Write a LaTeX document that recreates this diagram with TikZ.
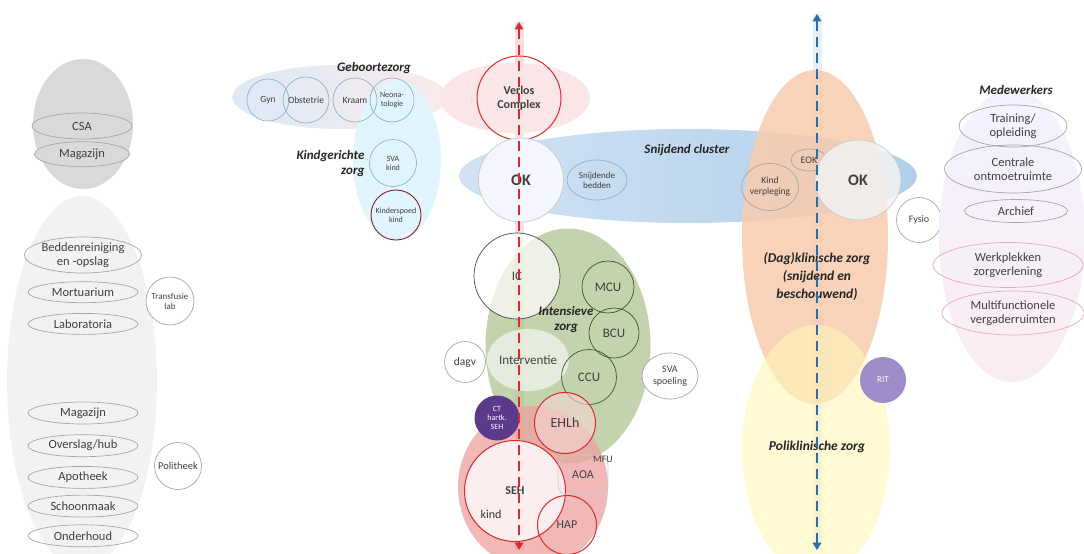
\documentclass[tikz,border=0pt]{standalone}
\usepackage{fontspec}
\setmainfont{Carlito}
\usetikzlibrary{arrows.meta,positioning,shapes.geometric,calc}
\definecolor{hgrey}{HTML}{A6A6A6}
\definecolor{hgreyfill}{HTML}{D9D9D9}
\definecolor{hgreylight}{HTML}{F2F2F2}
\definecolor{hblue}{HTML}{8FB3C9}
\definecolor{hsnij}{HTML}{9DC3E6}
\definecolor{hred}{HTML}{D92B2B}
\definecolor{hdarkred}{HTML}{8B1A2B}
\definecolor{hgreen}{HTML}{A9C08A}
\definecolor{hdkgreen}{HTML}{3D5A2A}
\definecolor{horange}{HTML}{F8CBAD}
\definecolor{hyellow}{HTML}{FFF5B8}
\definecolor{hpurple}{HTML}{5B3A8C}
\definecolor{hlilac}{HTML}{9E8CC8}
\definecolor{hnavy}{HTML}{2E6DA4}
\tikzset{
  >=Triangle,
  font=\fontsize{12.5}{13.5}\selectfont,
  wh/.style 2 args={minimum width=#1,minimum height=#2},
  zone/.style={ellipse,draw=none,inner sep=0pt},
  unit/.style={ellipse,draw=hgrey,line width=0.7pt,inner sep=0pt,align=center,
               text=black!75},
  ring/.style={circle,draw=hgrey,line width=0.7pt,inner sep=0pt,align=center,
               text=black!75},
  zlabel/.style={font=\bfseries\itshape\fontsize{13}{15}\selectfont,align=center,
                 text=black!85},
  big/.style={font=\bfseries\fontsize{16}{18}\selectfont},
  mid/.style={font=\fontsize{13}{15}\selectfont},
  sm/.style={font=\fontsize{9.5}{10.5}\selectfont},
  tiny/.style={font=\fontsize{8}{9}\selectfont},
  glow/.style={line width=9pt,opacity=0.25},
  axis/.style={<->,dashed,dash pattern=on 10pt off 6pt,line width=1.6pt},
}
\begin{document}
\begin{tikzpicture}[x=1pt,y=-1pt]
  \useasboundingbox (0,0) rectangle (1084,554);

  % axis end points
  \coordinate (rtop) at (519,22);
  \coordinate (rbot) at (519,550);
  \coordinate (btop) at (817,14);
  \coordinate (bbot) at (817,550);
  \draw[glow,draw=hred!60] (rtop) -- (rbot);
  \draw[glow,draw=hsnij] (btop) -- (bbot);

  % support services (left)
  \node[zone,fill=hgreyfill,wh={100pt}{130pt}] (csaZone) at (83,124) {};
  \node[zone,fill=hgreylight,wh={150pt}{372pt}] (logZone) at (82,382) {};
  \node[unit,fill=hgreyfill,wh={100pt}{26pt}] (csa) at (82,126) {CSA};
  \node[unit,fill=hgreyfill,wh={95pt}{25pt},below=2pt of csa] (mag1) {Magazijn};
  \node[unit,wh={110pt}{36pt}] (bed) at (83,255) {Beddenreiniging\\en -opslag};
  \node[unit,wh={110pt}{21pt},below=8pt of bed] (mort) {Mortuarium};
  \node[unit,wh={110pt}{21pt},below=10pt of mort] (lab) {Laboratoria};
  \node[ring,fill=white,minimum size=48pt,font=\fontsize{9}{10}\selectfont] (transf) at (170,301) {Transfusie\\lab};
  \node[unit,wh={110pt}{22pt}] (mag2) at (83,413) {Magazijn};
  \node[unit,wh={110pt}{22pt},below=10pt of mag2] (hub) {Overslag/hub};
  \node[unit,wh={110pt}{22pt},below=9pt of hub] (apo) {Apotheek};
  \node[unit,wh={110pt}{22pt},below=6pt of apo] (schoon) {Schoonmaak};
  \node[unit,wh={110pt}{22pt},below=7pt of schoon] (onderh) {Onderhoud};
  \node[ring,fill=white,minimum size=47pt,font=\fontsize{10.5}{12}\selectfont] (polith) at (178,466) {Politheek};

  % geboortezorg and kindgerichte zorg
  \node[zone,left color=hsnij!45,right color=hred!12,opacity=0.8,wh={215pt}{64pt}] (gebZone) at (340,97) {};
  \node[zone,fill=cyan!12,wh={88pt}{160pt}] (kindZone) at (397,160) {};
  \node[zlabel] (gebLabel) at (374,68) {Geboortezorg};
  \node[ring,draw=hblue,minimum size=42pt,sm] (gyn) at (268,100) {Gyn};
  \node[ring,draw=hblue,minimum size=46pt,sm] (obst) at (306,100) {Obstetrie};
  \node[ring,draw=hblue,minimum size=44pt,sm] (kraam) at (355,100) {Kraam};
  \node[ring,draw=hblue,minimum size=44pt,tiny] (neo) at (392,100) {Neona-\\tologie};
  \node[zlabel,anchor=east,align=right] (kindLabel) at (368,164) {Kindgerichte\\zorg};
  \node[ring,draw=hblue,minimum size=47pt,tiny] (svaKind) at (393,163) {SVA\\kind};
  \node[ring,draw=hdarkred,line width=0.9pt,minimum size=50pt,tiny] (kspoed) at (396,215) {Kinderspoed\\kind};

  % verloskunde
  \node[zone,fill=hred!12,wh={150pt}{70pt}] (verlosZone) at (515,98) {};
  \node[ring,draw=hred,line width=1pt,minimum size=84pt,
        font=\bfseries\fontsize{12}{14}\selectfont] (verlos) at (519,98) {Verlos\\Complex};

  % snijdend cluster
  \node[zone,left color=hsnij!60,right color=hsnij,opacity=0.8,wh={458pt}{94pt}] (snijZone) at (688,176) {};
  \node[zlabel] (snijLabel) at (687,150) {Snijdend cluster};
  \node[unit,fill=blue!4,draw=hgrey!60,wh={85pt}{84pt},big] (ok1) at (521,180) {OK};
  \node[unit,draw=hblue,wh={60pt}{40pt},font=\fontsize{9}{10}\selectfont] (snijBed) at (597,180) {Snijdende\\bedden};

  % intensieve zorg
  \node[zone,fill=hgreen,opacity=0.7,wh={165pt}{235pt}] (icZone) at (568,346) {};
  \node[ring,draw=black!70,fill=white,fill opacity=0.7,text opacity=1,
        minimum size=86pt,mid] (ic) at (517,276) {IC};
  \node[zlabel] (icLabel) at (566,320) {Intensieve\\zorg};
  \node[ring,draw=hdkgreen,minimum size=52pt,mid] (mcu) at (608,287) {MCU};
  \node[ring,draw=hdkgreen,minimum size=50pt,mid] (bcu) at (614,333) {BCU};
  \node[unit,draw=none,fill=white,fill opacity=0.6,text opacity=1,
        wh={82pt}{62pt},mid] (interv) at (528,360) {Interventie};
  \node[ring,draw=hdkgreen,minimum size=55pt,mid] (ccu) at (589,377) {CCU};
  \node[ring,fill=white,minimum size=41pt,font=\fontsize{11.5}{13}\selectfont] (dagv) at (465,362) {dagv};
  \node[unit,fill=white,wh={56pt}{46pt},font=\fontsize{10}{11.5}\selectfont] (svaSp) at (670,376) {SVA\\spoeling};

  % spoedeisende zorg
  \node[zone,fill=hred!45,opacity=0.75,wh={150pt}{162pt}] (sehZone) at (533,487) {};
  \node[ring,draw=none,fill=hpurple,minimum size=45pt,text=white,tiny] (ct) at (497,418) {CT\\hartk.\\SEH};
  \node[ring,draw=hred,line width=1pt,fill=hred!20,fill opacity=0.6,text opacity=1,
        minimum size=61pt,font=\fontsize{14}{16}\selectfont] (ehlh) at (565,423) {EHLh};
  \node[ring,draw=hred,line width=1pt,fill=hred!8,minimum size=101pt,
        font=\bfseries\fontsize{12}{14}\selectfont] (seh) at (515,491) {SEH};
  \node[font=\fontsize{12}{14}\selectfont,text=black!80] (kindSeh) at (491,514) {kind};
  \node[rectangle,rounded corners=10pt,draw=hgrey!60,line width=0.7pt,wh={50pt}{40pt},
        font=\fontsize{12}{14}\selectfont,text=black!75] (aoa) at (583,475) {AOA};
  \node[font=\fontsize{10}{12}\selectfont,text=black!75] (mfu) at (603,459) {MFU};
  \node[ring,draw=hred,line width=1pt,minimum size=59pt,font=\fontsize{12}{14}\selectfont] (hap) at (567,525) {HAP};

  % (dag)klinische en poliklinische zorg
  \node[zone,fill=horange,opacity=0.85,wh={146pt}{334pt}] (dagZone) at (815,237) {};
  \node[zone,fill=hyellow,opacity=0.6,wh={148pt}{250pt}] (poliZone) at (816,450) {};
  \node[zlabel,font=\bfseries\itshape\fontsize{13.5}{18}\selectfont] (dagLabel) at (817,277)
    {(Dag)klinische zorg\\(snijdend en\\beschouwend)};
  \node[zlabel,font=\bfseries\itshape\fontsize{13.5}{16}\selectfont] (poliLabel) at (817,447)
    {Poliklinische zorg};
  \node[unit,wh={36pt}{22pt},font=\fontsize{10}{12}\selectfont] (eok) at (809,160) {EOK};
  \node[unit,wh={56pt}{47pt},font=\fontsize{9.5}{11}\selectfont] (kindVpl) at (770,187) {Kind\\verpleging};
  \node[unit,fill=hgreylight,fill opacity=0.85,text opacity=1,draw=hgrey!60,
        wh={86pt}{80pt},big] (ok2) at (858,180) {OK};
  \node[ring,fill=white,minimum size=45pt,font=\fontsize{10}{12}\selectfont] (fysio) at (919,220) {Fysio};
  \node[ring,draw=none,fill=hlilac,minimum size=46pt,text=white,font=\fontsize{9}{10}\selectfont] (rit) at (883,380) {RIT};

  % medewerkers (right)
  \node[zone,top color=blue!5,bottom color=purple!7,wh={146pt}{292pt}] (medZone) at (1012,236) {};
  \node[zlabel] (medLabel) at (1016,90) {Medewerkers};
  \node[unit,wh={108pt}{42pt}] (train) at (1013,126) {Training/\\opleiding};
  \node[unit,wh={137pt}{48pt}] (centr) at (1013,169) {Centrale\\ontmoetruimte};
  \node[unit,wh={103pt}{23pt}] (arch) at (1016,211) {Archief};
  \node[unit,draw=purple!35,wh={150pt}{45pt}] (werk) at (1008,265) {Werkplekken\\zorgverlening};
  \node[unit,draw=purple!35,wh={142pt}{44pt}] (multi) at (1013,313) {Multifunctionele\\vergaderruimten};

  % axes on top
  \draw[axis,draw=hred] (rtop) -- (rbot);
  \draw[axis,draw=hnavy] (btop) -- (bbot);
\end{tikzpicture}
\end{document}
